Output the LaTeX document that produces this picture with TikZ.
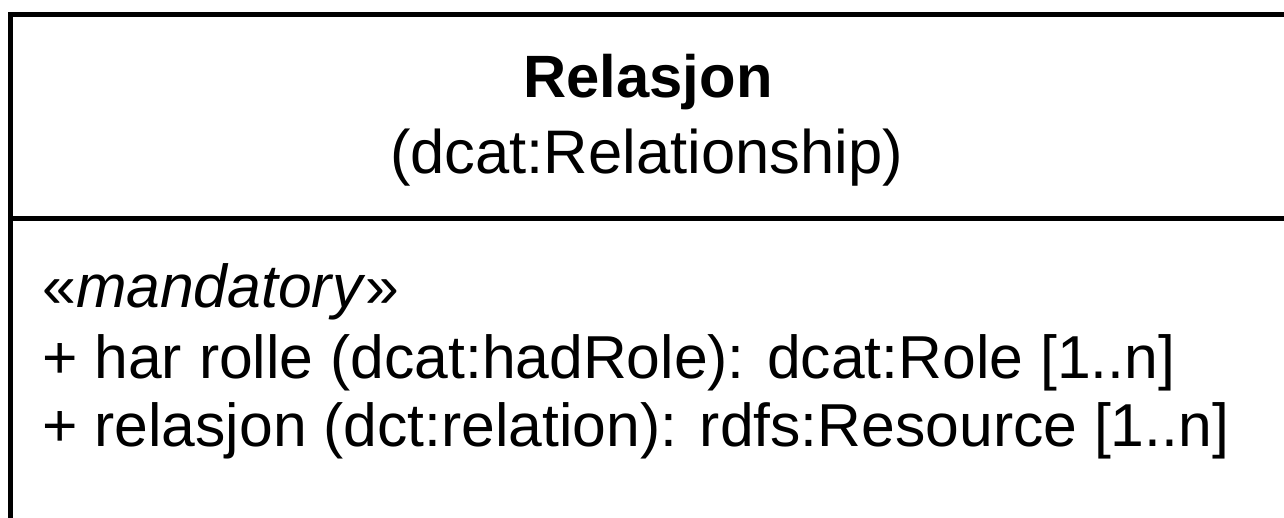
\documentclass[tikz,border=0pt]{standalone}
\usepackage{fontspec}
\setmainfont{Liberation Sans}
\usetikzlibrary{positioning}

\begin{document}
\begin{tikzpicture}[
    every node/.style={font=\fontsize{34.5}{41}\selectfont,inner sep=0pt},
    classname/.style={anchor=base,font=\fontsize{34}{41}\selectfont\bfseries},
    classref/.style={anchor=base,font=\fontsize{35}{42}\selectfont},
    attr/.style={anchor=base west},
    border/.style={line width=0.1cm}
]
\useasboundingbox (0,0) rectangle (25.68,-10.36);
\clip (0,0) rectangle (25.68,-10.36);

% Class box (cut off at right and bottom)
\draw[border] (26,-0.28) -- (0.21,-0.28) -- (0.21,-11);
\draw[border] (0.21,-4.36) -- (26,-4.36);

% Name compartment
\node[classname] (name)  at (12.96,-1.94) {Relasjon};
\node[classref]  (iri)   at (12.93,-3.46) {(dcat:Relationship)};

% Attribute compartment
\node[attr] (stereo) at (0.84,-6.14) {«\textit{mandatory}»};
\node[attr] (role)   at (0.84,-7.56) {+ har rolle (dcat:hadRole): dcat:Role [1..n]};
\node[attr] (rel)    at (0.84,-8.92) {+ relasjon (dct:relation): rdfs:Resource [1..n]};

\end{tikzpicture}
\end{document}
